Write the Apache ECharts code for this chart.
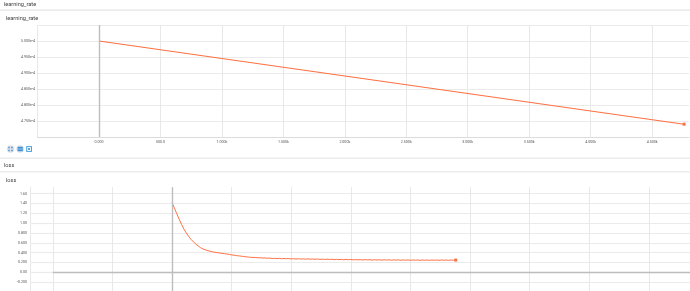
<!DOCTYPE html>
<html><head><meta charset="utf-8">
<script src="https://cdn.jsdelivr.net/npm/echarts@6/dist/echarts.min.js"></script>
<style>html,body{margin:0;padding:0;background:#fff}#c{width:690px;height:291px}</style>
</head><body><div id="c"></div>
<script>
// ---- data ----
const lrSteps = [0, 1000, 2000, 3000, 4000, 4760];
const lrValues = [5.000e-4, 4.9454e-4, 4.8908e-4, 4.8361e-4, 4.7815e-4, 4.740e-4];

const lossSteps = [0, 40, 80, 120, 160, 200, 240, 280, 320, 360, 400, 440, 480, 520, 560, 600, 640, 680, 720, 760, 800,
  840, 880, 920, 960, 1000, 1040, 1080, 1120, 1160, 1200, 1240, 1280, 1320, 1360, 1400, 1440, 1480, 1520, 1560, 1600,
  1640, 1680, 1720, 1760, 1800, 1840, 1880, 1920, 1960, 2000, 2040, 2080, 2120, 2160, 2200, 2240, 2280, 2320, 2360, 2400,
  2440, 2480, 2520, 2560, 2600, 2640, 2680, 2720, 2760, 2800, 2840, 2880, 2920, 2960, 3000, 3040, 3080, 3120, 3160, 3200,
  3240, 3280, 3320, 3360, 3400, 3440, 3480, 3520, 3560, 3600, 3640, 3680, 3720, 3760, 3800, 3840, 3880, 3920, 3960, 4000,
  4040, 4080, 4120, 4160, 4200, 4240, 4280, 4320, 4360, 4400, 4440, 4480, 4520, 4560, 4600, 4640, 4680, 4720, 4760];
const lossValues = [1.420, 1.305, 1.190, 1.080, 0.975, 0.878, 0.798, 0.728, 0.668, 0.618, 0.573, 0.534, 0.500, 0.474, 0.456, 0.441, 0.428, 0.417, 0.407, 0.400, 0.393,
  0.386, 0.379, 0.372, 0.364, 0.354, 0.348, 0.340, 0.334, 0.329, 0.321, 0.316, 0.310, 0.306, 0.301, 0.303, 0.295, 0.297, 0.290, 0.292, 0.285,
  0.289, 0.282, 0.284, 0.280, 0.284, 0.276, 0.281, 0.277, 0.279, 0.272, 0.277, 0.271, 0.276, 0.269, 0.273, 0.268, 0.274, 0.266, 0.271, 0.265,
  0.270, 0.263, 0.268, 0.262, 0.267, 0.261, 0.266, 0.258, 0.264, 0.259, 0.263, 0.255, 0.262, 0.256, 0.261, 0.253, 0.259, 0.254, 0.258, 0.251,
  0.258, 0.252, 0.257, 0.249, 0.256, 0.250, 0.255, 0.248, 0.254, 0.249, 0.254, 0.246, 0.253, 0.248, 0.253, 0.245, 0.252, 0.247, 0.252, 0.244,
  0.251, 0.246, 0.251, 0.244, 0.250, 0.245, 0.251, 0.244, 0.250, 0.246, 0.250, 0.244, 0.251, 0.245, 0.250, 0.244, 0.250, 0.246, 0.249];

const sectionTitles = ['learning_rate', 'loss'];
const cardTitles = ['learning_rate', 'loss'];

// tick label formatters
const fmtStep = v => v === 0 ? '0.000' : (Math.abs(v) < 1000 ? v.toFixed(1) : (v / 1000).toFixed(3) + 'k');
const fmtLr = v => (v * 1e4).toFixed(3) + 'e-4';
const fmtLoss = v => Math.abs(v) < 1e-9 ? '0.00' : (Math.abs(v) >= 1 ? v.toFixed(2) : v.toFixed(3));

const lineColor = '#ff7043';
const dotColor = '#f4511e';
const gridColor = '#e8e8e8';
const zeroColor = '#bdbdbd';
const labelColor = '#555';
const FONT = 'Roboto, "Liberation Sans", sans-serif';

const chart = echarts.init(document.getElementById('c'), null, {renderer: 'canvas'});

const zeroMark = {
  silent: true, symbol: 'none', label: {show: false},
  lineStyle: {color: zeroColor, type: 'solid', width: 1.4},
  data: [{xAxis: 0}]
};

const iconBlue = '#3d8fd6';
const graphic = [
  {type: 'rect', shape: {x: 0, y: 9.3, width: 690, height: 1.6}, style: {fill: '#ececec'}},
  {type: 'rect', shape: {x: 0, y: 157.5, width: 690, height: 1.5}, style: {fill: '#ececec'}},
  {type: 'rect', shape: {x: 0, y: 171, width: 690, height: 1.5}, style: {fill: '#ececec'}},
  {type: 'text', x: 4, y: 4.5, style: {text: sectionTitles[0], fontSize: 5.6, fontFamily: FONT, fill: '#424242', verticalAlign: 'middle'}},
  {type: 'text', x: 6, y: 19, style: {text: cardTitles[0], fontSize: 5.6, fontFamily: FONT, fill: '#424242', verticalAlign: 'middle'}},
  {type: 'text', x: 4, y: 165.5, style: {text: sectionTitles[1], fontSize: 5.6, fontFamily: FONT, fill: '#424242', verticalAlign: 'middle'}},
  {type: 'text', x: 6, y: 180.5, style: {text: cardTitles[1], fontSize: 5.6, fontFamily: FONT, fill: '#424242', verticalAlign: 'middle'}},
  // toolbar icons
  {type: 'circle', shape: {cx: 10.5, cy: 149, r: 3.8}, style: {fill: '#dde2e8'}},
  {type: 'rect', shape: {x: 8.3, y: 146.8, width: 1.4, height: 1.4}, style: {fill: iconBlue}},
  {type: 'rect', shape: {x: 11.3, y: 146.8, width: 1.4, height: 1.4}, style: {fill: iconBlue}},
  {type: 'rect', shape: {x: 8.3, y: 149.8, width: 1.4, height: 1.4}, style: {fill: iconBlue}},
  {type: 'rect', shape: {x: 11.3, y: 149.8, width: 1.4, height: 1.4}, style: {fill: iconBlue}},
  {type: 'circle', shape: {cx: 20.2, cy: 149, r: 3.8}, style: {fill: '#dde2e8'}},
  {type: 'rect', shape: {x: 17.6, y: 146.8, width: 5.2, height: 4.4}, style: {fill: iconBlue}},
  {type: 'rect', shape: {x: 17.6, y: 148.2, width: 5.2, height: 0.5}, style: {fill: '#9cc7ee'}},
  {type: 'rect', shape: {x: 17.6, y: 149.5, width: 5.2, height: 0.5}, style: {fill: '#9cc7ee'}},
  {type: 'rect', shape: {x: 26.2, y: 146.1, width: 5.8, height: 5.8}, style: {fill: '#4aa3e0'}},
  {type: 'rect', shape: {x: 27.2, y: 147.1, width: 3.8, height: 3.8}, style: {fill: '#ffffff'}},
  {type: 'rect', shape: {x: 28.1, y: 148.0, width: 2.0, height: 2.0}, style: {fill: '#4aa3e0'}}
];

const option = {
  animation: false,
  backgroundColor: '#fff',
  textStyle: {fontFamily: FONT},
  graphic: graphic,
  grid: [
    {left: 37.5, right: 1, top: 25, height: 112, containLabel: false, outerBoundsMode: 'none'},
    {left: 52.8, right: 0, top: 187.2, height: 104.8, containLabel: false, outerBoundsMode: 'none'}
  ],
  xAxis: [
    {
      gridIndex: 0, type: 'value', min: -500, max: 4800, interval: 500,
      axisLine: {show: true, onZero: false, lineStyle: {color: '#dcdcdc', width: 1}},
      axisTick: {show: false},
      axisLabel: {fontSize: 3.6, color: labelColor, margin: 3.5, formatter: fmtStep, showMinLabel: false, showMaxLabel: false},
      splitLine: {show: true, showMinLine: true, showMaxLine: false, lineStyle: {color: gridColor, width: 1}}
    },
    {
      gridIndex: 1, type: 'value', min: -2000, max: 8690, interval: 1000,
      axisLine: {show: true, onZero: true, lineStyle: {color: zeroColor, width: 1.3}},
      axisTick: {show: false},
      axisLabel: {show: false},
      splitLine: {show: true, showMinLine: true, showMaxLine: false, lineStyle: {color: gridColor, width: 1}}
    }
  ],
  yAxis: [
    {
      gridIndex: 0, type: 'value', min: 4.70e-4, max: 5.05e-4, interval: 5e-6,
      axisLine: {show: false, onZero: false},
      axisTick: {show: false},
      axisLabel: {fontSize: 3.6, color: labelColor, margin: 2.5, formatter: fmtLr, showMinLabel: false, showMaxLabel: false},
      splitLine: {show: true, showMinLine: false, showMaxLine: true, lineStyle: {color: '#ebebeb', width: 1.2}}
    },
    {
      gridIndex: 1, type: 'value', min: -0.4, max: 1.73, interval: 0.2, offset: 22.8,
      axisLine: {show: true, onZero: false, lineStyle: {color: gridColor, width: 1}},
      axisTick: {show: true, inside: true, length: 22.8, lineStyle: {color: '#ebebeb', width: 1.2}},
      axisLabel: {fontSize: 3.6, color: labelColor, margin: 3, formatter: fmtLoss, showMinLabel: false, showMaxLabel: false},
      splitLine: {show: true, showMinLine: true, showMaxLine: false, lineStyle: {color: '#ebebeb', width: 1.2}}
    }
  ],
  series: [
    {
      type: 'line', xAxisIndex: 0, yAxisIndex: 0,
      data: lrSteps.map((s, i) => [s, lrValues[i]]),
      showSymbol: false, symbol: 'none', silent: true,
      lineStyle: {color: lineColor, width: 1.1},
      markLine: zeroMark
    },
    {
      type: 'scatter', xAxisIndex: 0, yAxisIndex: 0, silent: true,
      data: [[lrSteps[lrSteps.length - 1], lrValues[lrValues.length - 1]]],
      symbol: 'rect', symbolSize: 3, itemStyle: {color: dotColor}
    },
    {
      type: 'line', xAxisIndex: 1, yAxisIndex: 1,
      data: lossSteps.map((s, i) => [s, lossValues[i]]),
      showSymbol: false, symbol: 'none', silent: true,
      lineStyle: {color: lineColor, width: 1},
      markLine: zeroMark
    },
    {
      type: 'scatter', xAxisIndex: 1, yAxisIndex: 1, silent: true,
      data: [[lossSteps[lossSteps.length - 1], lossValues[lossValues.length - 1]]],
      symbol: 'rect', symbolSize: 3, itemStyle: {color: dotColor}
    }
  ]
};
chart.setOption(option);
</script>
</body></html>
